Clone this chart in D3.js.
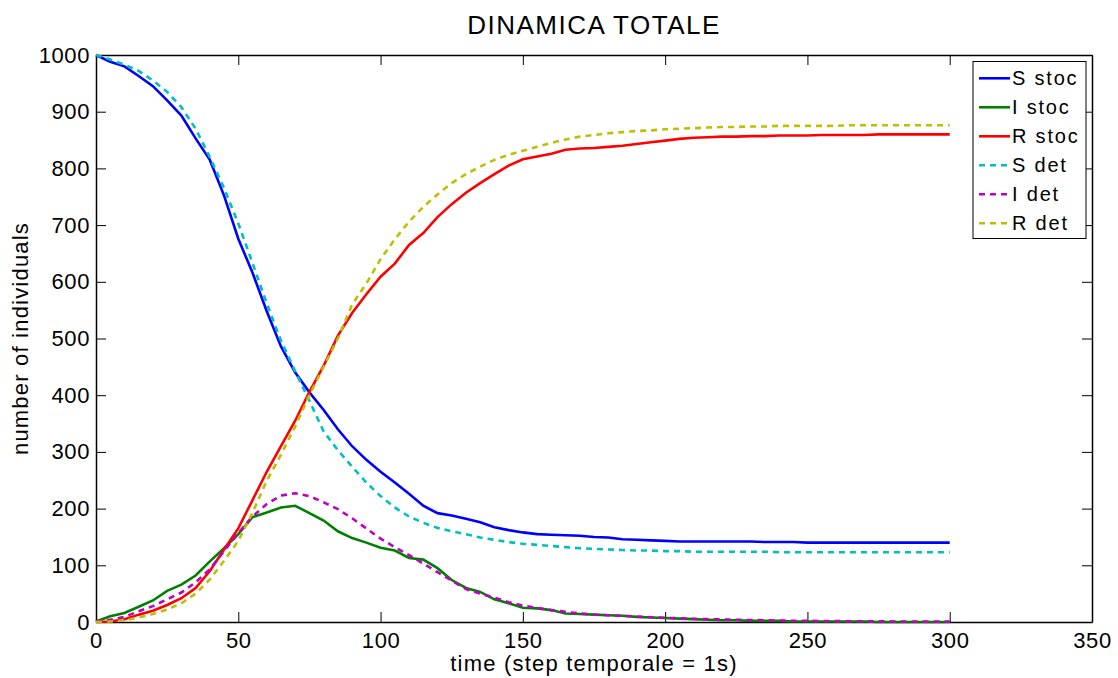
<!DOCTYPE html>
<html lang="en">
<head>
<meta charset="utf-8">
<title>DINAMICA TOTALE</title>
<script src="https://cdn.jsdelivr.net/npm/d3@7"></script>
<style>
  body { margin: 0; background: #fff; }
  text { font-family: "Liberation Sans", Arial, sans-serif; fill: #000; }
</style>
</head>
<body>
<script>
// time steps (every 5 s)
var time = d3.range(0, 301, 5);

// stochastic run
var sStoc = [1000,988,980,963,945,920,893,853,815,752,676,616,548,486,440,405,374,340,310,286,265,246,226,205,192,188,182,176,167,162,158,155,154,153,152,150,149,146,145,144,143,142,142,142,142,142,142,141,141,141,140,140,140,140,140,140,140,140,140,140,140];
var iStoc = [1,10,16,27,38,55,66,82,107,130,155,185,193,202,205,192,179,160,148,140,131,126,113,110,95,74,60,53,40,33,25,24,21,15,14,13,12,11,9,8,7,6,5,4,3,3,2,2,2,1,1,1,1,1,1,0,0,0,0,0,0];
var rStoc = [0,1,5,13,20,30,42,60,90,128,165,215,265,310,355,406,452,505,545,578,609,632,665,686,714,737,757,774,790,805,816,821,826,833,835,836,838,840,843,846,849,852,854,855,856,856,857,857,858,858,858,859,859,859,859,860,860,860,860,860,860];

// deterministic model
var sDet = [1000,992,983,972,955,935,908,870,820,765,703,633,562,496,442,390,336,303,274,246,222,202,186,175,166,160,155,149,145,141,138,136,134,132,130,129,128,127,126,126,125,125,124,124,124,124,124,124,123,123,123,123,123,123,123,123,123,123,123,123,123];
var iDet = [1,4,9,19,28,40,52,70,93,125,157,186,208,223,227,222,211,199,183,165,147,132,118,103,88,73,58,50,43,35,29,25,21,18,15,13,12,11,9.5,8.5,7.5,6.5,5.5,5,4.5,4,3.5,3,2.5,2.2,2,1.8,1.6,1.4,1.2,1.1,1,0.9,0.8,0.7,0.6];
var rDet = [0,1,3,8,14,22,33,50,75,108,143,193,249,295,345,400,450,500,560,597,640,675,706,732,754,774,790,803,815,824,831,838,845,851,856,859,862,864,866,867,869,870,871,872,873,873,874,874,875,875,875,875,875,876,876,876,876,876,876,876,876];

var xTicks = [0,50,100,150,200,250,300,350];
var yTicks = [0,100,200,300,400,500,600,700,800,900,1000];

var series = [
  {name: "S stoc", values: sStoc, color: "#0000ff", dash: null},
  {name: "I stoc", values: iStoc, color: "#008000", dash: null},
  {name: "R stoc", values: rStoc, color: "#ff0000", dash: null},
  {name: "S det",  values: sDet,  color: "#00bfbf", dash: "6,5"},
  {name: "I det",  values: iDet,  color: "#bf00bf", dash: "6,5"},
  {name: "R det",  values: rDet,  color: "#bfbf00", dash: "6,5"}
];

var w = 1118, h = 678;
var margin = {left: 96, right: 26, top: 55, bottom: 56};
var iw = w - margin.left - margin.right;
var ih = h - margin.top - margin.bottom;

var svg = d3.select("body").append("svg")
    .attr("width", w)
    .attr("height", h);

var x = d3.scaleLinear().domain([0, 350]).range([0, iw]);
var y = d3.scaleLinear().domain([0, 1000]).range([ih, 0]);

var g = svg.append("g")
    .attr("transform", "translate(" + margin.left + "," + margin.top + ")");

// axes, ticks pointing inward (box on)
var tickLen = 10;
var fmt = d3.format("d");
g.append("g")
    .attr("transform", "translate(0," + ih + ")")
    .call(d3.axisBottom(x).tickValues(xTicks).tickFormat(fmt).tickSizeInner(-tickLen).tickSizeOuter(0).tickPadding(10))
    .call(function(a) { a.selectAll("text").style("font-size", "22px").style("letter-spacing", "0.6px"); });
g.append("g")
    .call(d3.axisTop(x).tickValues(xTicks).tickSizeInner(-tickLen).tickSizeOuter(0).tickFormat(""));
g.append("g")
    .call(d3.axisLeft(y).tickValues(yTicks).tickFormat(fmt).tickSizeInner(-tickLen).tickSizeOuter(0).tickPadding(6))
    .call(function(a) { a.selectAll("text").style("font-size", "22px").style("letter-spacing", "0.6px"); });
g.append("g")
    .attr("transform", "translate(" + iw + ",0)")
    .call(d3.axisRight(y).tickValues(yTicks).tickSizeInner(-tickLen).tickSizeOuter(0).tickFormat(""));

g.selectAll(".domain").attr("stroke", "#000").attr("stroke-width", 1.5);
g.selectAll(".tick line").attr("stroke", "#000");

// lines
var line = d3.line()
    .x(function(d, i) { return x(time[i]); })
    .y(function(d) { return y(d); });

g.selectAll("path.series")
    .data(series)
    .enter()
    .append("path")
    .attr("class", "series")
    .attr("d", function(d) { return line(d.values); })
    .attr("fill", "none")
    .attr("stroke", function(d) { return d.color; })
    .attr("stroke-width", 2.6)
    .attr("stroke-dasharray", function(d) { return d.dash; });

// title and labels
svg.append("text")
    .attr("x", margin.left + iw / 2)
    .attr("y", 34)
    .attr("text-anchor", "middle")
    .style("font-size", "26px")
    .style("letter-spacing", "1.5px")
    .text("DINAMICA TOTALE");

svg.append("text")
    .attr("x", margin.left + iw / 2)
    .attr("y", 671)
    .attr("text-anchor", "middle")
    .style("font-size", "22px")
    .style("letter-spacing", "1.2px")
    .text("time (step temporale = 1s)");

svg.append("text")
    .attr("transform", "translate(28," + (margin.top + ih / 2) + ") rotate(-90)")
    .attr("text-anchor", "middle")
    .style("font-size", "22px")
    .style("letter-spacing", "1.2px")
    .text("number of individuals");

// legend
var lg = svg.append("g").attr("transform", "translate(973,61.5)");
lg.append("rect")
    .attr("width", 113)
    .attr("height", 177)
    .attr("fill", "#fff")
    .attr("stroke", "#000")
    .attr("stroke-width", 1);

var items = lg.selectAll("g.item")
    .data(series)
    .enter()
    .append("g")
    .attr("class", "item")
    .attr("transform", function(d, i) { return "translate(0," + (16.8 + i * 29) + ")"; });

items.append("line")
    .attr("x1", 6).attr("x2", 37)
    .attr("stroke", function(d) { return d.color; })
    .attr("stroke-width", 2.6)
    .attr("stroke-dasharray", function(d) { return d.dash; });

items.append("text")
    .attr("x", 39)
    .attr("dy", "0.35em")
    .style("font-size", "20px")
    .style("letter-spacing", "1.8px")
    .text(function(d) { return d.name; });
</script>
</body>
</html>
